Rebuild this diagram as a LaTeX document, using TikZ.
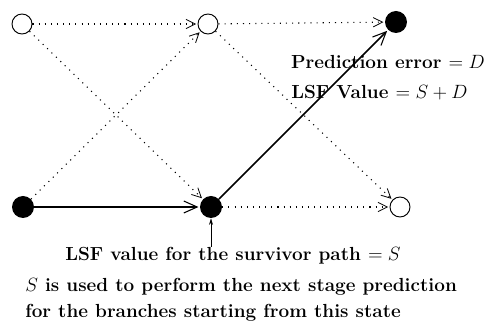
\documentclass[tikz,border=0pt]{standalone}
\usetikzlibrary{arrows.meta}
\begin{document}
\begin{tikzpicture}[x=0.75pt,y=-0.75pt,
  open/.style={circle,draw,line width=0.7pt,minimum size=15pt,inner sep=0pt},
  full/.style={circle,fill,minimum size=16.5pt,inner sep=0pt},
  dotarrow/.style={line width=0.8pt,dash pattern=on 0.8pt off 3.8pt,-{Straight Barb[length=7pt,width=7pt,line width=0.6pt]},shorten >=1pt},
  solidarrow/.style={line width=1.3pt,-{Straight Barb[length=10pt,width=9pt,line width=0.8pt]},shorten >=1pt},
  lbl/.style={font=\fontsize{14.2}{16}\selectfont\bfseries,inner sep=0pt}]
\useasboundingbox (0,0) rectangle (487,331);
\node[open] (tl) at (22,24) {};
\node[open] (tm) at (208,24) {};
\node[full] (tr) at (396,22) {};
\node[full] (bl) at (23,207) {};
\node[full] (bm) at (211,207) {};
\node[open] (br) at (400,207) {};
\draw[dotarrow] (tl) -- (tm);
\draw[dotarrow] (tl) -- (bm);
\draw[dotarrow] (bl) -- (tm);
\draw[dotarrow] (tm) -- (tr);
\draw[dotarrow] (tm) -- (br);
\draw[dotarrow] (bm) -- (br);
\draw[solidarrow] (bl) -- (bm);
\draw[solidarrow] (bm) -- (tr);
\node[lbl,anchor=base east] (pe) at (485,69) {Prediction error $=D$};
\node[lbl,anchor=base west] (lv) at (291,99) {LSF Value $=S+D$};
\node[lbl,anchor=base] (sv) at (233,261) {LSF value for the survivor path $=S$};
\coordinate (sa) at (211,247);
\draw[line width=0.6pt,-{Stealth[length=5pt,width=3pt]}] (sa) -- (bm);
\node[lbl,anchor=base west] (t1) at (25,292) {$S$ is used to perform the next stage prediction};
\node[lbl,anchor=base west] (t2) at (25,318) {for the branches starting from this state};
\end{tikzpicture}
\end{document}
